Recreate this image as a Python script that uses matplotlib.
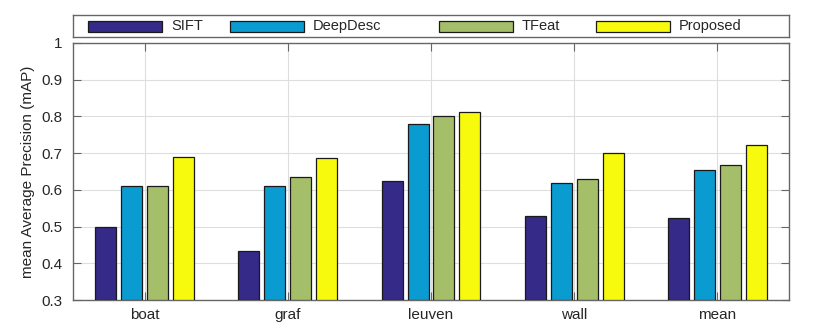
import numpy as np
import matplotlib
matplotlib.use("Agg")
import matplotlib.pyplot as plt
from matplotlib.patches import Rectangle

plt.rcParams["font.family"] = ["Liberation Sans", "DejaVu Sans"]

# data
categories = ["boat", "graf", "leuven", "wall", "mean"]
methods = ["SIFT", "DeepDesc", "TFeat", "Proposed"]
sift = [0.500, 0.434, 0.625, 0.530, 0.523]
deepdesc = [0.610, 0.610, 0.780, 0.620, 0.655]
tfeat = [0.610, 0.634, 0.800, 0.630, 0.668]
proposed = [0.690, 0.688, 0.813, 0.700, 0.722]
yticks = [0.3, 0.4, 0.5, 0.6, 0.7, 0.8, 0.9, 1.0]
ytick_labels = ["0.3", "0.4", "0.5", "0.6", "0.7", "0.8", "0.9", "1"]

colors = ["#352a87", "#0a9bd0", "#a5be6a", "#f8fa0d"]
text_col = "#262626"
spine_col = "#666666"

fig = plt.figure(figsize=(8.3, 3.32), dpi=100)
ax = fig.add_axes([73 / 830, 1 - 300 / 332, 716 / 830, 257 / 332])

x = np.arange(1, len(categories) + 1)
pitch = 0.181
width = 0.147
series = [sift, deepdesc, tfeat, proposed]
for i, vals in enumerate(series):
    off = (i - 1.5) * pitch
    ax.bar(x + off, np.array(vals) - 0.3, width, bottom=0.3, color=colors[i],
           edgecolor="#1a1a1a", linewidth=0.9, zorder=3)

ax.set_xlim(0.5, 5.5)
ax.set_ylim(0.3, 1.0)
ax.set_xticks(x)
ax.set_xticklabels(categories)
ax.set_yticks(yticks)
ax.set_yticklabels(ytick_labels)
ax.set_axisbelow(True)
ax.grid(True, color="#dedede", linewidth=0.8, zorder=0)
ax.tick_params(direction="in", length=5.5, width=0.8, color=spine_col,
               top=True, right=True, labelsize=11, labelcolor=text_col)
ax.tick_params(axis="y", pad=7.5)
ax.tick_params(axis="x", pad=6)
for s in ax.spines.values():
    s.set_color(spine_col)
    s.set_linewidth(1.0)
ax.set_ylabel("mean Average Precision (mAP)", fontsize=11, color=text_col,
              labelpad=5)

# legend box drawn as its own axes, laid out like the original (pixel units)
lax = fig.add_axes([73 / 830, 1 - 37 / 332, 716 / 830, 22 / 332])
lax.set_xlim(0, 716)
lax.set_ylim(22, 0)
lax.set_xticks([])
lax.set_yticks([])
for s in lax.spines.values():
    s.set_color(spine_col)
    s.set_linewidth(1.0)
patch_x = [15, 157, 366, 523]
for px, name, c in zip(patch_x, methods, colors):
    lax.add_patch(Rectangle((px, 5.5), 74, 11, facecolor=c,
                            edgecolor="#1a1a1a", linewidth=0.9))
    lax.text(px + 83, 11, name, fontsize=10.5, color=text_col,
             va="center", ha="left")

fig.savefig("out.png", dpi=100)
